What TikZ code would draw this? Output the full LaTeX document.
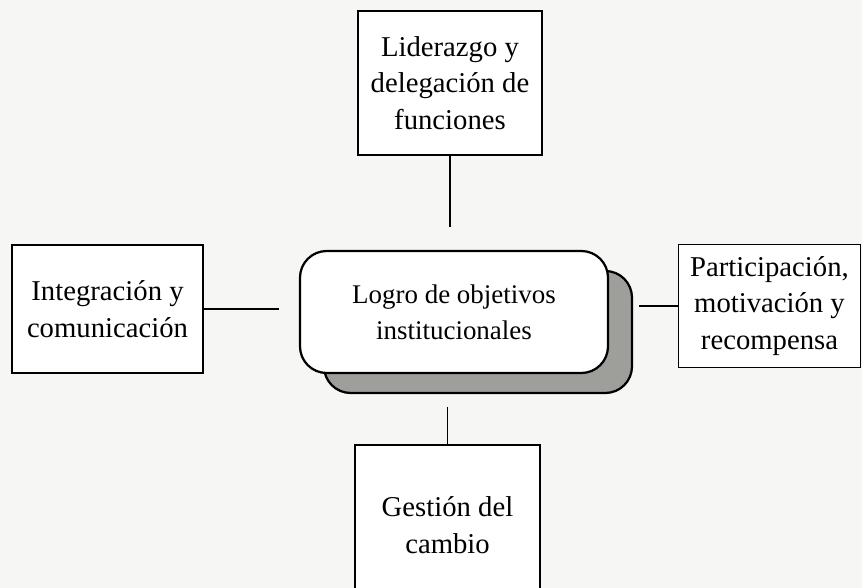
\documentclass[tikz,border=0pt]{standalone}
\usepackage{fontspec}
\setmainfont{Liberation Serif}
\usepackage{xcolor}
\definecolor{paper}{RGB}{246,246,244}
\definecolor{shade}{RGB}{158,158,154}

\begin{document}
\begin{tikzpicture}[x=0.03cm,y=-0.03cm]
    \tikzset{
        box/.style={draw,line width=1.4pt,fill=white,align=center,inner sep=0pt,
            font=\fontsize{24.5}{31}\selectfont},
        goal/.style={box,rounded corners=0.8cm,line width=1.9pt,
            font=\fontsize{23}{31}\selectfont,
            minimum width=9.24cm,minimum height=3.66cm},
        link/.style={line width=1.3pt}
    }
    \fill[paper] (0,0) rectangle (862,588);
    \useasboundingbox (0,0) rectangle (862,588);
    % centre
    \node[goal,fill=shade] (goalshadow) at (478,332) {};
    \node[goal] (goal) at (454,312) {Logro de objetivos\\institucionales};
    % boxes
    \node[box,minimum width=5.52cm,minimum height=4.32cm] (lider) at (450,83)
        {Liderazgo y\\delegación de\\funciones};
    \node[box,minimum width=5.73cm,minimum height=3.84cm] (integ) at (107.5,309)
        {Integración y\\comunicación};
    \node[box,minimum width=5.46cm,minimum height=3.69cm] (partic) at (769.5,306)
        {Participación,\\motivación y\\recompensa};
    \node[box,minimum width=5.55cm,minimum height=4.8cm] (cambio) at (447.5,525)
        {Gestión del\\cambio};
    % links
    \draw[link,shorten >=0.69cm] (lider.south) -- (lider.south |- goal.north);
    \draw[link,shorten >=0.6cm] (integ.east) -- (integ.east -| goal.west);
    \draw[link,shorten >=0.9cm] (partic.west) -- (partic.west -| goal.east);
    \draw[link,shorten >=0.99cm] (cambio.north) -- (cambio.north |- goal.south);
\end{tikzpicture}
\end{document}
